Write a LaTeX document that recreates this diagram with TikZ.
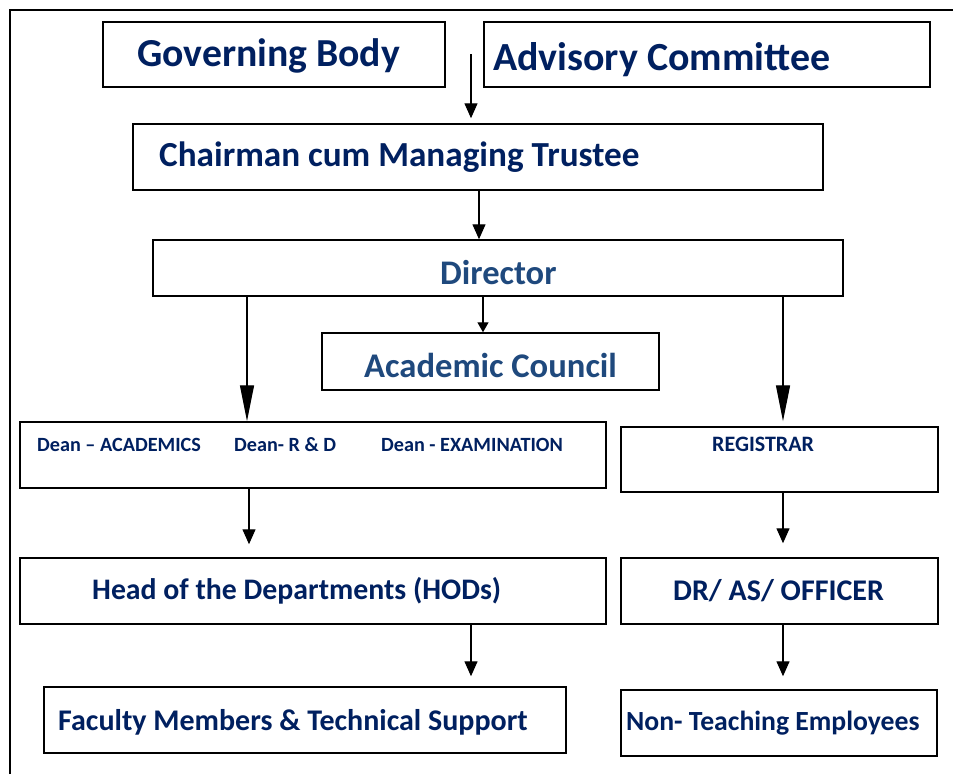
\documentclass[tikz,border=0pt]{standalone}
\usepackage{fontspec}
\setmainfont{Carlito}
\usetikzlibrary{arrows.meta}
\definecolor{navy}{RGB}{0,32,96}
\definecolor{midblue}{RGB}{31,73,125}
\newcommand\fsz[1]{\fontsize{#1}{#1}\selectfont}
\tikzset{
  boxnode/.style={draw=black, line width=1.5pt, inner sep=0pt, fill=white},
  txt/.style={inner sep=0pt, anchor=base west, text=navy, font=\bfseries},
  arr/.style={line width=1.4pt, -{Triangle[length=15pt,width=13pt]}},
  arrlong/.style={line width=1.4pt, -{Triangle[length=36pt,width=14pt]}},
  arrsmall/.style={line width=1.4pt, -{Triangle[length=10pt,width=11pt]}},
}
\begin{document}
\begin{tikzpicture}[x=1pt,y=-1pt]
\useasboundingbox (0,0) rectangle (953,774);
% outer frame
\coordinate (fa) at (10,774);
\coordinate (fb) at (10,10);
\coordinate (fc) at (953,10);
\draw[line width=1.5pt] (fa) -- (fb) -- (fc);

% boxes
\node[boxnode, minimum width=342pt, minimum height=65pt] (gb) at (274,54.5) {};
\node[boxnode, minimum width=446pt, minimum height=65pt] (ac) at (707,54.5) {};
\node[boxnode, minimum width=690pt, minimum height=66pt] (chair) at (478,157) {};
\node[boxnode, minimum width=690pt, minimum height=56pt] (dir) at (498,268) {};
\node[boxnode, minimum width=337pt, minimum height=57pt] (acad) at (490.5,361.5) {};
\node[boxnode, minimum width=586pt, minimum height=66pt] (dean) at (313,455) {};
\node[boxnode, minimum width=317pt, minimum height=65pt] (reg) at (779.5,459.5) {};
\node[boxnode, minimum width=586pt, minimum height=66pt] (hod) at (313,591) {};
\node[boxnode, minimum width=317pt, minimum height=66pt] (dr) at (779.5,591) {};
\node[boxnode, minimum width=522pt, minimum height=66pt] (fac) at (305,720) {};
\node[boxnode, minimum width=316pt, minimum height=66pt] (nte) at (779,723) {};

% texts
\node[txt, font=\bfseries\fsz{39.7}] (gbt) at (137,66) {Governing Body};
\node[txt, font=\bfseries\fsz{39.9}] (act) at (493,70) {Advisory Committee};
\node[txt, font=\bfseries\fsz{35.2}] (chairt) at (159,166) {Chairman cum Managing Trustee};
\node[txt, text=midblue, font=\bfseries\fsz{34.5}] (dirt) at (440,284) {Director};
\node[txt, text=midblue, font=\bfseries\fsz{34.6}] (acadt) at (364,377) {Academic Council};
\node[txt, font=\bfseries\fsz{20.2}] (d1) at (37,451) {Dean – ACADEMICS};
\node[txt, font=\bfseries\fsz{20.2}] (d2) at (234,451) {Dean- R \& D};
\node[txt, font=\bfseries\fsz{20.2}] (d3) at (381,451) {Dean - EXAMINATION};
\node[txt, font=\bfseries\fsz{22}] (regt) at (712,451) {REGISTRAR};
\node[txt, font=\bfseries\fsz{29.8}] (hodt) at (92,599) {Head of the Departments (HODs)};
\node[txt, font=\bfseries\fsz{30}] (drt) at (673,600) {DR/ AS/ OFFICER};
\node[txt, font=\bfseries\fsz{30}] (fact) at (58,730) {Faculty Members \& Technical Support};
\node[txt, font=\bfseries\fsz{27.7}] (ntet) at (626,730) {Non- Teaching Employees};

% column coordinates
\coordinate (gbac) at (471,54);
\coordinate (x479) at (479,0);
\coordinate (x483) at (483,0);
\coordinate (x247) at (247,0);
\coordinate (x249) at (249,0);
\coordinate (x471) at (471,0);
\coordinate (x783) at (783,0);

% connectors
\draw[arr, shorten >=5pt] (gbac) -- (gbac |- chair.north);
\draw[arr] (chair.south -| x479) -- (dir.north -| x479);
\draw[arrsmall] (dir.south -| x483) -- (acad.north -| x483);
\draw[arrlong] (dir.south -| x247) -- (dean.north -| x247);
\draw[arrlong, shorten >=5pt] (dir.south -| x783) -- (reg.north -| x783);
\draw[arr, shorten >=13pt] (dean.south -| x249) -- (hod.north -| x249);
\draw[arr, shorten >=14pt] (reg.south -| x783) -- (dr.north -| x783);
\draw[arr, shorten >=10pt] (hod.south -| x471) -- (fac.north -| x471);
\draw[arr, shorten >=13pt] (dr.south -| x783) -- (nte.north -| x783);
\end{tikzpicture}
\end{document}
